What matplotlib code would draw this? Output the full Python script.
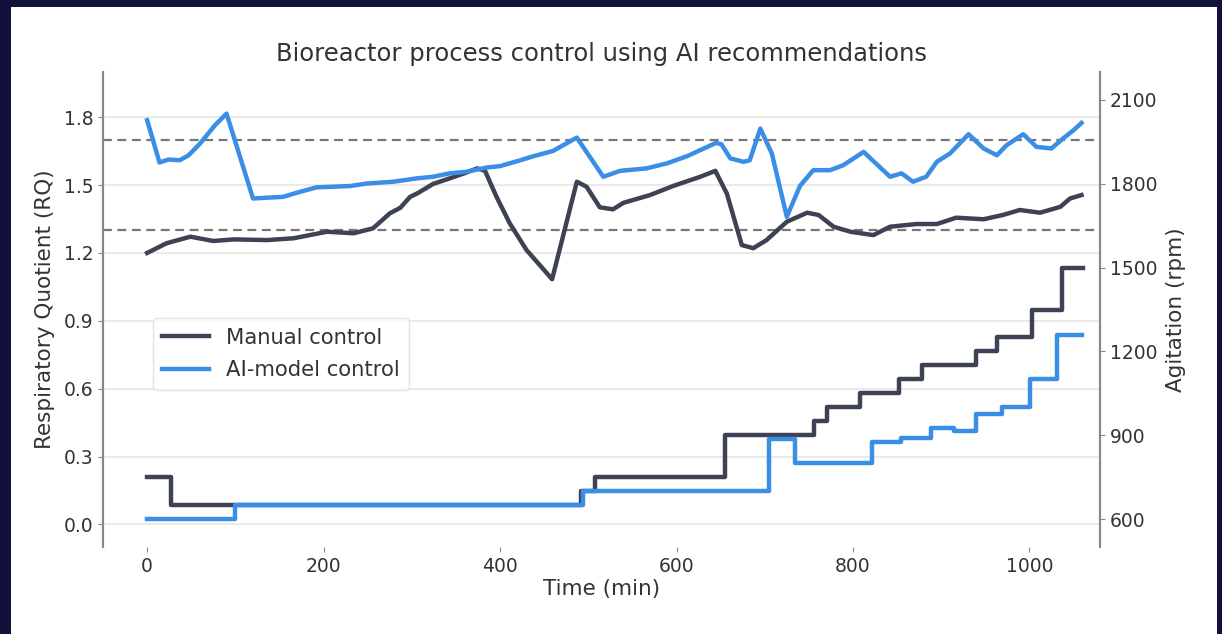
import matplotlib
matplotlib.use("Agg")
import matplotlib.pyplot as plt
from matplotlib.patches import Rectangle

# RQ curves (time in min, RQ)
t_manual = [0, 22, 49, 75, 98, 136, 166, 204, 234, 256, 275, 287, 298, 306, 324, 343, 360, 374, 383,
            396, 411, 430, 459, 487, 498, 513, 528, 540, 570, 596, 627, 644, 657, 674, 687, 702, 725,
            748, 761, 778, 797, 823, 842, 872, 895, 917, 948, 970, 989, 1012, 1035, 1046, 1059]
rq_manual = [1.20, 1.243, 1.272, 1.253, 1.26, 1.257, 1.265, 1.294, 1.287, 1.309, 1.375, 1.40, 1.448,
             1.463, 1.505, 1.53, 1.553, 1.574, 1.563, 1.448, 1.331, 1.213, 1.084, 1.515, 1.493, 1.402,
             1.393, 1.422, 1.456, 1.496, 1.537, 1.563, 1.463, 1.235, 1.221, 1.257, 1.338, 1.378, 1.368,
             1.316, 1.294, 1.279, 1.316, 1.328, 1.328, 1.356, 1.349, 1.368, 1.39, 1.378, 1.404, 1.441,
             1.456]

t_ai = [0, 14, 24, 37, 47, 60, 77, 90, 120, 154, 173, 192, 230, 249, 279, 306, 324, 343, 362, 385,
        400, 423, 438, 460, 487, 517, 536, 566, 589, 612, 645, 651, 661, 676, 683, 695, 708, 725, 740,
        755, 774, 789, 812, 842, 855, 868, 883, 895, 910, 931, 948, 963, 974, 993, 1008, 1025, 1038,
        1050, 1059]
rq_ai = [1.787, 1.60, 1.613, 1.61, 1.632, 1.684, 1.765, 1.816, 1.441, 1.448, 1.47, 1.49, 1.496, 1.507,
         1.515, 1.53, 1.537, 1.552, 1.559, 1.578, 1.584, 1.61, 1.628, 1.651, 1.71, 1.537, 1.563, 1.574,
         1.596, 1.628, 1.687, 1.68, 1.618, 1.603, 1.61, 1.75, 1.64, 1.36, 1.497, 1.566, 1.566, 1.588,
         1.647, 1.537, 1.552, 1.515, 1.537, 1.603, 1.64, 1.725, 1.662, 1.632, 1.676, 1.725, 1.669,
         1.662, 1.706, 1.743, 1.775]

# agitation setpoints (rpm), step changes
t_agit_manual = [0, 27, 492, 508, 655, 756, 770, 808, 852, 878, 939, 963, 1003, 1037, 1061]
agit_manual = [750, 650, 700, 750, 900, 950, 1000, 1050, 1100, 1150, 1200, 1250, 1350, 1500, 1500]

t_agit_ai = [0, 100, 494, 705, 734, 822, 854, 888, 914, 939, 969, 1001, 1031, 1060]
agit_ai = [600, 650, 700, 885, 800, 875, 890, 925, 915, 975, 1000, 1100, 1260, 1260]

rq_limits = [1.7, 1.3]

c_manual = "#3d4354"
c_ai = "#3b8ee6"
txt = "#333333"

fig = plt.figure(figsize=(12.22, 6.34), dpi=100, facecolor="#11113a")
panel = Rectangle((11 / 1222, 0), 1206 / 1222, 627 / 634, transform=fig.transFigure,
                  facecolor="white", edgecolor="none", zorder=-10)
fig.add_artist(panel)

ax = fig.add_axes([0.0843, 0.1372, 0.8159, 0.7492])
ax.set_facecolor("none")
ax2 = ax.twinx()
ax2.set_facecolor("none")

for y in [0.0, 0.3, 0.6, 0.9, 1.2, 1.5, 1.8]:
    ax.axhline(y, color="#e6e6e6", lw=1.2, zorder=0)
for y in rq_limits:
    ax.axhline(y, color="#777777", lw=1.6, ls=(0, (4, 2.5)), zorder=1)

ax.plot(t_manual, rq_manual, color=c_manual, lw=3.2, label="Manual control", zorder=3)
ax.plot(t_ai, rq_ai, color=c_ai, lw=3.2, label="AI-model control", zorder=3)

ax2.step(t_agit_manual, agit_manual, where="post", color=c_manual, lw=3.2)
ax2.step(t_agit_ai, agit_ai, where="post", color=c_ai, lw=3.2)

ax.set_xlim(-50, 1080)
ax.set_ylim(-0.1, 2.0)
ax2.set_ylim(500, 2200)
ax.set_xticks([0, 200, 400, 600, 800, 1000])
ax.set_yticks([0.0, 0.3, 0.6, 0.9, 1.2, 1.5, 1.8])
ax2.set_yticks([600, 900, 1200, 1500, 1800, 2100])

for a in (ax, ax2):
    for s in ["top", "bottom"]:
        a.spines[s].set_visible(False)
    a.spines["left"].set_color("#888888")
    a.spines["right"].set_color("#888888")
    a.spines["left"].set_linewidth(1.5)
    a.spines["right"].set_linewidth(1.5)
    a.tick_params(colors="#888888", labelcolor=txt, labelsize=13.5, length=3.5, width=0.8)

ax.set_title("Bioreactor process control using AI recommendations", fontsize=17.5, color=txt, pad=8)
ax.set_xlabel("Time (min)", fontsize=15.5, color=txt, labelpad=2)
ax.set_ylabel("Respiratory Quotient (RQ)", fontsize=15.5, color=txt, labelpad=6)
ax2.set_ylabel("Agitation (rpm)", fontsize=15.5, color=txt, labelpad=6)

ax.legend(loc="upper left", bbox_to_anchor=(0.05, 0.482), borderaxespad=0, fontsize=15.2,
          frameon=True, edgecolor="#dddddd", labelcolor=txt, handlelength=2.2, borderpad=0.45,
          labelspacing=0.6)

plt.savefig("out.png", dpi=100, facecolor=fig.get_facecolor())
